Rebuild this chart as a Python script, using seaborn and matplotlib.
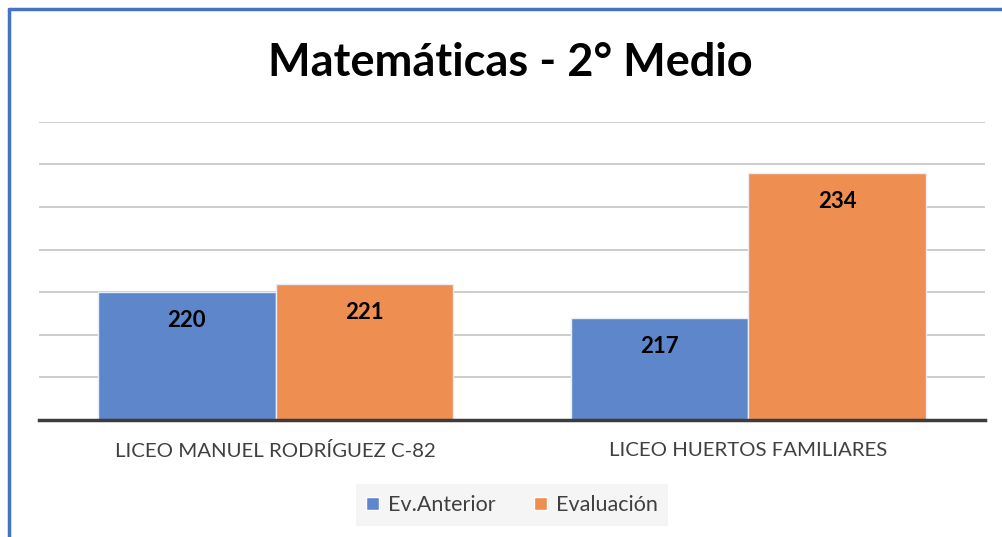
import pandas as pd
import matplotlib.pyplot as plt
from matplotlib.lines import Line2D
from matplotlib.patches import Patch
import seaborn as sns

sns.set_style('white')
plt.rcParams['font.family'] = ['Lato', 'DejaVu Sans']

# data
escuelas = ['LICEO MANUEL RODRÍGUEZ C-82', 'LICEO HUERTOS FAMILIARES']
series = ['Ev.Anterior', 'Evaluación']
ev_anterior = [220, 217]
evaluacion = [221, 234]
colores = ['#5E86CA', '#EE8E50']

df = pd.DataFrame({
    'escuela': escuelas * 2,
    'serie': [series[0]] * 2 + [series[1]] * 2,
    'puntaje': ev_anterior + evaluacion,
})

fig = plt.figure(figsize=(10.02, 5.37), dpi=100)
ax = fig.add_axes([0.039, 0.218, 0.944, 0.555])

sns.barplot(data=df, x='escuela', y='puntaje', hue='serie', palette=colores,
            width=0.75, edgecolor='#e8eef8', linewidth=1, saturation=1,
            legend=False, ax=ax)

ax.set_ylim(205, 240)
ax.set_yticks(range(205, 241, 5))
ax.set_yticklabels([])
ax.yaxis.grid(True, color='#cccccc', linewidth=1.4)
ax.set_axisbelow(True)
ax.tick_params(axis='both', length=0)
ax.tick_params(axis='x', pad=16, labelsize=14.7, labelcolor='#404040')
ax.set_xlabel('')
ax.set_ylabel('')
for s in ['top', 'right', 'left']:
    ax.spines[s].set_visible(False)
ax.spines['bottom'].set_color('#3c3c3c')
ax.spines['bottom'].set_linewidth(2.5)

for c in ax.containers:
    ax.bar_label(c, padding=-28, fontsize=16, fontweight='bold', color='#000000')

fig.text(0.509, 1 - 63 / 537, 'Matemáticas - 2° Medio', ha='center', va='center',
         fontsize=32.5, fontweight='bold', color='black')

handles = [Patch(facecolor=colores[i], label=series[i]) for i in range(2)]
leg = fig.legend(handles=handles, loc='center', bbox_to_anchor=(0.511, 1 - 505 / 537),
                 ncol=2, fontsize=15.5, frameon=True, fancybox=False,
                 handlelength=0.6, handleheight=0.6, handletextpad=0.4,
                 columnspacing=1.8, borderpad=0.5)
leg.get_frame().set_facecolor('#f3f3f3')
leg.get_frame().set_edgecolor('none')
for t in leg.get_texts():
    t.set_color('#404040')

# blue frame (top and left edges visible)
fig.add_artist(Line2D([9 / 1002, 9 / 1002], [0, 1 - 9 / 537], transform=fig.transFigure,
                      color='#4472C4', linewidth=2.5))
fig.add_artist(Line2D([9 / 1002, 1], [1 - 9 / 537, 1 - 9 / 537], transform=fig.transFigure,
                      color='#4472C4', linewidth=2.5))

fig.savefig('out.png', dpi=100)
